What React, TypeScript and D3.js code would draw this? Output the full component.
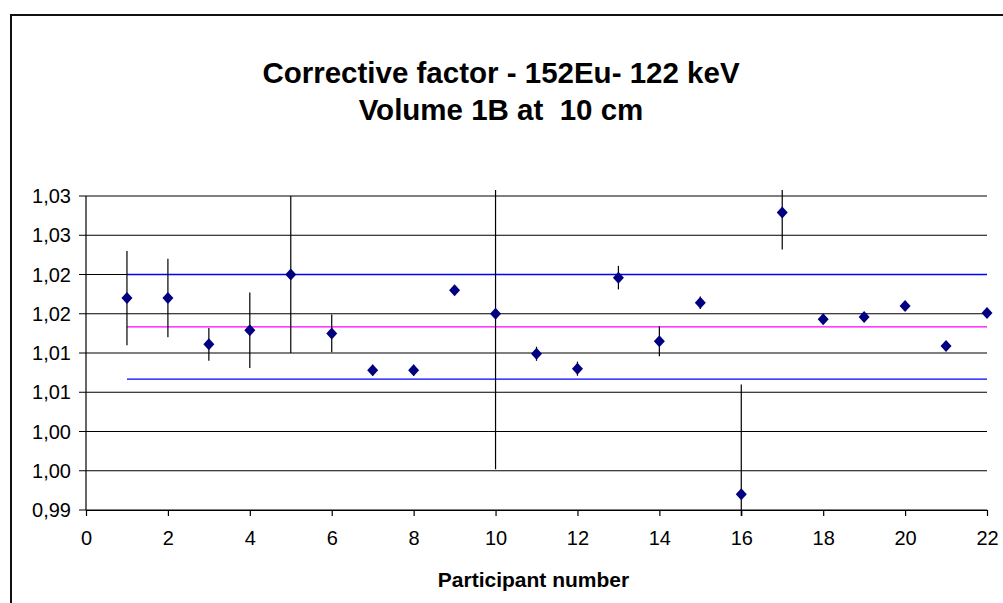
import React, { useEffect, useRef } from "react";
import * as d3 from "d3";

// participant numbers on the x axis
const participants = [1, 2, 3, 4, 5, 6, 7, 8, 9, 10, 11, 12, 13, 14, 15, 16, 17, 18, 19, 20, 21, 22];

// corrective factor reported by each participant
const factors = [
  1.017, 1.017, 1.0111, 1.0129, 1.02, 1.0125, 1.0078, 1.0078, 1.018, 1.015, 1.0099,
  1.008, 1.0196, 1.0115, 1.0164, 0.992, 1.0279, 1.0143, 1.0146, 1.016, 1.0109, 1.0151,
];

// uncertainty (error bar half length)
const uncertainties = [
  0.006, 0.005, 0.0021, 0.0048, 0.01, 0.0024, 0.0007, 0.0007, 0.0004, 0.0198, 0.0009,
  0.0009, 0.0015, 0.0019, 0.0008, 0.014, 0.0047, 0.0003, 0.0003, 0.0003, 0.0003, 0.0003,
];

// reference lines: mean and mean +/- band
const meanValue = 1.01334;
const upperValue = 1.02;
const lowerValue = 1.00666;

const yTicks = [0.99, 0.995, 1.0, 1.005, 1.01, 1.015, 1.02, 1.025, 1.03];
// labels as printed on the chart (2 decimals, rounded half up)
const yTickLabels = ["0,99", "1,00", "1,00", "1,01", "1,01", "1,02", "1,02", "1,03", "1,03"];
const xTicks = [0, 2, 4, 6, 8, 10, 12, 14, 16, 18, 20, 22];

const titleLines = ["Corrective factor - 152Eu- 122 keV", "Volume 1B at  10 cm"];
const xTitle = "Participant number";

const FONT = "'Liberation Sans', Arial, sans-serif";

const App = () => {
  const svgRef = useRef<SVGSVGElement>(null);

  useEffect(() => {
    const svg = d3.select(svgRef.current);
    svg.selectAll("*").remove();

    const width = 1003;
    const height = 603;
    const margin = { top: 196, right: 16, bottom: 93, left: 86 };
    const innerW = width - margin.left - margin.right;
    const innerH = height - margin.top - margin.bottom;

    // chart border
    svg
      .append("rect")
      .attr("x", 11)
      .attr("y", 15)
      .attr("width", 1100)
      .attr("height", 700)
      .attr("fill", "white")
      .attr("stroke", "#111")
      .attr("stroke-width", 2);

    // title
    const title = svg
      .append("text")
      .attr("font-family", FONT)
      .attr("font-weight", "bold")
      .attr("font-size", 29.5)
      .attr("text-anchor", "middle")
      .style("white-space", "pre");
    titleLines.forEach((t, i) => {
      title
        .append("tspan")
        .attr("x", 501)
        .attr("y", 83 + i * 37)
        .text(t);
    });

    const g = svg.append("g").attr("transform", `translate(${margin.left},${margin.top})`);

    const xScale = d3.scaleLinear().domain([0, 22]).range([0, innerW]);
    const yScale = d3.scaleLinear().domain([0.99, 1.03]).range([innerH, 0]);

    // horizontal gridlines with small ticks on the left
    g.append("g")
      .selectAll("line")
      .data(yTicks)
      .join("line")
      .attr("x1", -7)
      .attr("x2", innerW)
      .attr("y1", (d) => yScale(d))
      .attr("y2", (d) => yScale(d))
      .attr("stroke", "black")
      .attr("stroke-width", 1.2);

    // y tick labels
    g.append("g")
      .selectAll("text")
      .data(yTicks)
      .join("text")
      .attr("x", -15)
      .attr("y", (d) => yScale(d) + 7)
      .attr("text-anchor", "end")
      .attr("font-family", FONT)
      .attr("font-size", 20)
      .text((d, i) => yTickLabels[i]);

    // y axis line
    g.append("line")
      .attr("x1", 0)
      .attr("x2", 0)
      .attr("y1", 0)
      .attr("y2", innerH)
      .attr("stroke", "black")
      .attr("stroke-width", 1.2);

    // x axis
    const xAxis = d3.axisBottom(xScale).tickValues(xTicks).tickSize(6).tickSizeOuter(0).tickPadding(15);
    const xg = g.append("g").attr("transform", `translate(0,${innerH})`).call(xAxis);
    xg.select(".domain").attr("stroke", "black").attr("stroke-width", 1.2);
    xg.selectAll(".tick line").attr("stroke", "black").attr("stroke-width", 1.2);
    xg.selectAll(".tick text")
      .attr("font-family", FONT)
      .attr("font-size", 20)
      .attr("fill", "black");

    // x axis title
    g.append("text")
      .attr("x", innerW / 2 - 3)
      .attr("y", innerH + 77)
      .attr("text-anchor", "middle")
      .attr("font-family", FONT)
      .attr("font-weight", "bold")
      .attr("font-size", 21)
      .text(xTitle);

    // reference lines
    const x0 = participants[0];
    const x1 = participants[participants.length - 1];
    const refs = [
      { v: upperValue, c: "#0000ff" },
      { v: meanValue, c: "#ff00ff" },
      { v: lowerValue, c: "#0000ff" },
    ];
    g.append("g")
      .selectAll("line")
      .data(refs)
      .join("line")
      .attr("x1", xScale(x0))
      .attr("x2", xScale(x1))
      .attr("y1", (d) => yScale(d.v))
      .attr("y2", (d) => yScale(d.v))
      .attr("stroke", (d) => d.c)
      .attr("stroke-width", 1.3);

    // clip for error bars
    svg
      .append("defs")
      .append("clipPath")
      .attr("id", "errClip")
      .append("rect")
      .attr("x", -10)
      .attr("y", -6)
      .attr("width", innerW + 20)
      .attr("height", innerH + 12);

    const pts = participants.map((p, i) => ({ p, v: factors[i], e: uncertainties[i] }));

    // error bars
    g.append("g")
      .attr("clip-path", "url(#errClip)")
      .selectAll("line")
      .data(pts)
      .join("line")
      .attr("x1", (d) => xScale(d.p))
      .attr("x2", (d) => xScale(d.p))
      .attr("y1", (d) => yScale(d.v + d.e))
      .attr("y2", (d) => yScale(d.v - d.e))
      .attr("stroke", "black")
      .attr("stroke-width", 1.2);

    // diamond markers
    g.append("g")
      .selectAll("path")
      .data(pts)
      .join("path")
      .attr("d", "M0,-6L5.5,0L0,6L-5.5,0Z")
      .attr("transform", (d) => `translate(${xScale(d.p)},${yScale(d.v)})`)
      .attr("fill", "#000080");
  }, []);

  return (
    <div>
      <svg
        ref={svgRef}
        width={1003}
        height={603}
        style={{ position: "fixed", left: 0, top: 0, background: "white" }}
      ></svg>
    </div>
  );
};

export default App;
